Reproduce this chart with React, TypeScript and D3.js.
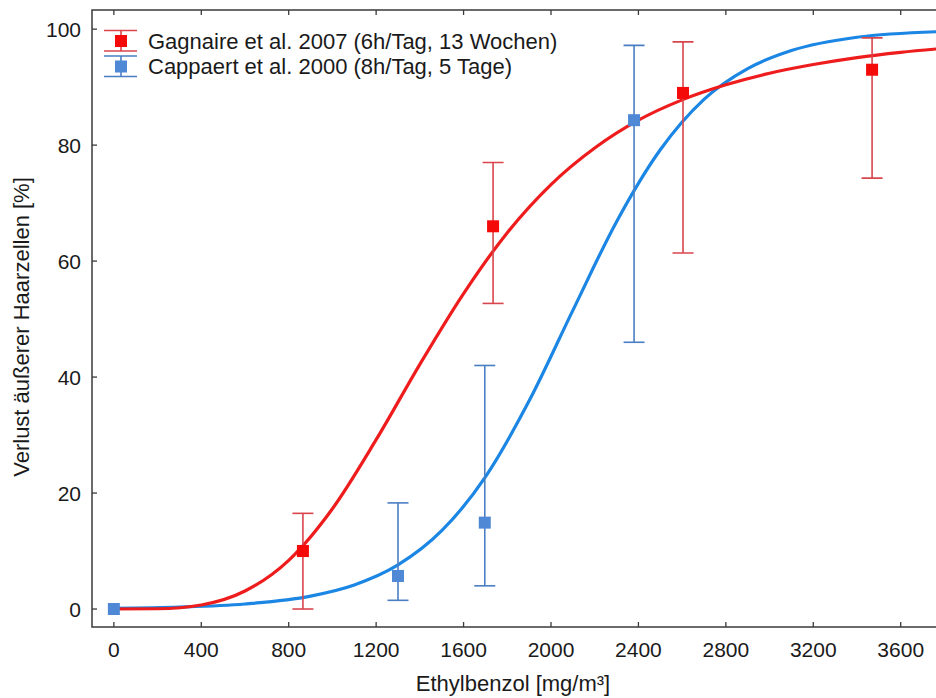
import React from "react";
import * as d3 from "d3";

const xTicks = [0, 400, 800, 1200, 1600, 2000, 2400, 2800, 3200, 3600];
const yTicks = [0, 20, 40, 60, 80, 100];

const gagnairePoints = [
  { x: 865, y: 10, lo: 0, hi: 16.5 },
  { x: 1735, y: 66, lo: 52.7, hi: 77 },
  { x: 2604, y: 89, lo: 61.4, hi: 97.8 },
  { x: 3469, y: 93, lo: 74.3, hi: 98.5 },
];
const cappaertPoints = [
  { x: 0, y: 0, lo: 0, hi: 0 },
  { x: 1300, y: 5.7, lo: 1.5, hi: 18.3 },
  { x: 1697, y: 14.9, lo: 4, hi: 42 },
  { x: 2380, y: 84.3, lo: 46, hi: 97.2 },
];
const gagnaireCurve: [number, number][] = [
  [0, 0], [200, 0.05], [400, 0.7], [600, 3.1], [800, 8.4], [1000, 17.3], [1200, 29.2],
  [1400, 42.2], [1600, 54.4], [1800, 64.9], [2000, 73.2], [2200, 79.5], [2400, 84.3],
  [2600, 87.8], [2800, 90.4], [3000, 92.4], [3200, 93.9], [3400, 95.1], [3600, 96.0],
  [3800, 96.7],
];
const cappaertCurve: [number, number][] = [
  [0, 0.13], [300, 0.33], [600, 0.87], [900, 2.23], [1100, 4.15], [1300, 7.6],
  [1500, 13.5], [1700, 22.8], [1900, 35.9], [2100, 51.5], [2300, 66.8], [2500, 79.2],
  [2700, 87.9], [2900, 93.2], [3100, 96.3], [3400, 98.6], [3800, 99.6],
];
const legendLabels = [
  "Gagnaire et al. 2007 (6h/Tag, 13 Wochen)",
  "Cappaert et al. 2000 (8h/Tag, 5 Tage)",
];

const W = 936;
const H = 698;
const left = 92, top = 10, bottom = 627;
const x = d3.scaleLinear().domain([-100, 3800]).range([left, left + 3900 * 0.21857]);
const y = d3.scaleLinear().domain([-3.1, 103.3]).range([bottom, top]);
const right = x(3800);

const line = d3
  .line<[number, number]>()
  .x((d) => x(d[0]))
  .y((d) => y(d[1]))
  .curve(d3.curveMonotoneX);

const FONT = "'Liberation Sans', Arial, sans-serif";
const AXIS = "#3a3a3a";
const TXT = "#1a1a1a";
const RED = "#ee1c1c";
const RED_BAR = "#d9454c";
const RED_SQ = "#f50a0a";
const BLUE = "#1b86e3";
const BLUE_BAR = "#4a7ec4";
const BLUE_SQ = "#4f88d4";

function ErrorBars({ pts, color, sq }: { pts: typeof gagnairePoints; color: string; sq: string }) {
  return (
    <g>
      {pts.map((p, i) => (
        <g key={i}>
          {p.hi !== p.lo && (
            <g stroke={color} strokeWidth={1.6} fill="none">
              <line x1={x(p.x)} x2={x(p.x)} y1={y(p.lo)} y2={y(p.hi)} />
              <line x1={x(p.x) - 10.5} x2={x(p.x) + 10.5} y1={y(p.lo)} y2={y(p.lo)} />
              <line x1={x(p.x) - 10.5} x2={x(p.x) + 10.5} y1={y(p.hi)} y2={y(p.hi)} />
            </g>
          )}
          <rect x={x(p.x) - 6} y={y(p.y) - 6} width={12} height={12} fill={sq} />
        </g>
      ))}
    </g>
  );
}

export default function App() {
  return (
    <svg
      width={W}
      height={H}
      style={{ position: "absolute", left: 0, top: 0, background: "#fff" }}
      fontFamily={FONT}
    >
      <defs>
        <clipPath id="plot">
          <rect x={left} y={top} width={right - left} height={bottom - top} />
        </clipPath>
      </defs>
      <rect width={W} height={H} fill="#fff" />
      <g clipPath="url(#plot)">
        <path d={line(cappaertCurve) || ""} fill="none" stroke={BLUE} strokeWidth={3.2} />
        <path d={line(gagnaireCurve) || ""} fill="none" stroke={RED} strokeWidth={3.2} />
        <ErrorBars pts={gagnairePoints} color={RED_BAR} sq={RED_SQ} />
        <ErrorBars pts={cappaertPoints} color={BLUE_BAR} sq={BLUE_SQ} />
      </g>
      <rect x={left} y={top} width={right - left} height={bottom - top} fill="none" stroke={AXIS} strokeWidth={1.5} />
      {xTicks.map((t) => (
        <g key={"x" + t}>
          <line x1={x(t)} x2={x(t)} y1={bottom} y2={bottom - 5} stroke={AXIS} strokeWidth={1.3} />
          <line x1={x(t)} x2={x(t)} y1={top} y2={top + 5} stroke={AXIS} strokeWidth={1.3} />
          <text x={x(t)} y={657} textAnchor="middle" fontSize={21} fill={TXT}>
            {t}
          </text>
        </g>
      ))}
      {yTicks.map((t) => (
        <g key={"y" + t}>
          <line x1={left} x2={left + 5} y1={y(t)} y2={y(t)} stroke={AXIS} strokeWidth={1.3} />
          <text x={81} y={y(t) + 7.5} textAnchor="end" fontSize={21} fill={TXT}>
            {t}
          </text>
        </g>
      ))}
      <text x={513} y={691} textAnchor="middle" fontSize={22} fill={TXT}>
        Ethylbenzol [mg/m³]
      </text>
      <text
        transform={`translate(29,${327}) rotate(-90)`}
        textAnchor="middle"
        fontSize={22}
        fill={TXT}
      >
        Verlust äußerer Haarzellen [%]
      </text>
      {legendLabels.map((lab, i) => {
        const cy = 41 + i * 25.5;
        const c = i === 0 ? RED_BAR : BLUE_BAR;
        const s = i === 0 ? RED_SQ : BLUE_SQ;
        return (
          <g key={lab}>
            <g stroke={c} strokeWidth={1.6}>
              <line x1={104} x2={137} y1={cy - 10.5} y2={cy - 10.5} />
              <line x1={104} x2={137} y1={cy + 10} y2={cy + 10} />
              <line x1={121} x2={121} y1={cy - 10.5} y2={cy + 10} />
            </g>
            <rect x={115} y={cy - 6} width={12} height={12} fill={s} />
            <text x={148} y={cy + 7.5} fontSize={22} fill={TXT}>
              {lab}
            </text>
          </g>
        );
      })}
    </svg>
  );
}
